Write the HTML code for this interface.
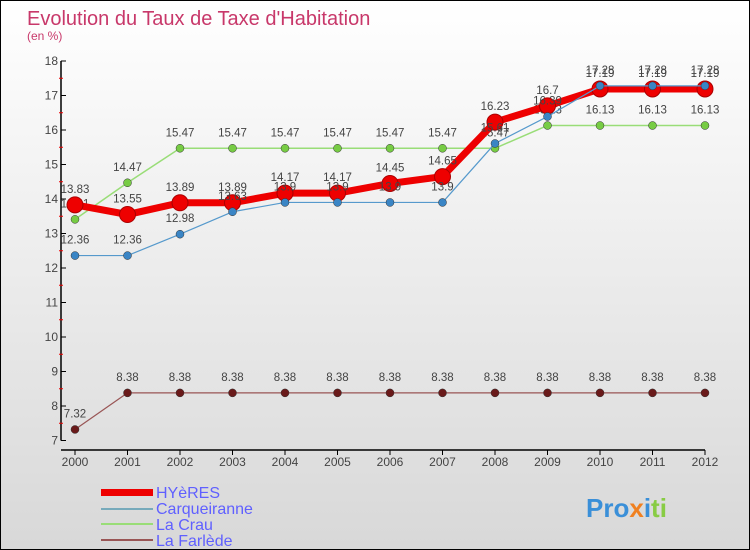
<!DOCTYPE html>
<html><head><meta charset="utf-8"><style>
body{margin:0}
#c{width:750px;height:550px;position:relative;box-sizing:border-box;border:1px solid #000;background:linear-gradient(#fff,#d8d8d8);font-family:"Liberation Sans",sans-serif}
</style></head><body>
<div id="c">
<svg id="s" width="748" height="548" style="position:absolute;left:0;top:0" font-family="Liberation Sans, sans-serif">
<text x="26" y="24" font-size="20" fill="#c8386a">Evolution du Taux de Taxe d'Habitation</text>
<text x="26" y="39" font-size="12" fill="#c8386a">(en %)</text>
<g id="g"></g>
<text x="330" y="20" font-size="1" fill="none"> </text>
<g>
<rect x="100" y="488" width="52" height="7" fill="#e00"/>
<text x="155" y="497" font-size="16" fill="#6060ff">HYèRES</text>
<rect x="100" y="507" width="52" height="2" fill="#7ab"/>
<text x="155" y="513" font-size="16" fill="#6060ff">Carqueiranne</text>
<rect x="100" y="522" width="52" height="2" fill="#9d7"/>
<text x="155" y="529" font-size="16" fill="#6060ff">La Crau</text>
<rect x="100" y="538" width="52" height="2" fill="#955"/>
<text x="155" y="545" font-size="16" fill="#6060ff">La Farlède</text>
</g>
<text x="585" y="516" font-size="26" font-weight="bold"><tspan fill="#3a8fd8">Pro</tspan><tspan fill="#f08020">x</tspan><tspan fill="#3a8fd8">i</tspan><tspan fill="#8c4">ti</tspan></text>
</svg>
</div>
<script>
const years=[2000,2001,2002,2003,2004,2005,2006,2007,2008,2009,2010,2011,2012];
const hyeres=[13.83,13.55,13.89,13.89,14.17,14.17,14.45,14.65,16.23,16.7,17.19,17.19,17.19];
const carqueiranne=[12.36,12.36,12.98,13.63,13.9,13.9,13.9,13.9,15.61,16.39,17.28,17.28,17.28];
const laCrau=[13.41,14.47,15.47,15.47,15.47,15.47,15.47,15.47,15.47,16.13,16.13,16.13,16.13];
const laFarlede=[7.32,8.38,8.38,8.38,8.38,8.38,8.38,8.38,8.38,8.38,8.38,8.38,8.38];
const yTicks=[7,8,9,10,11,12,13,14,15,16,17,18];
const NS="http://www.w3.org/2000/svg";
const g=document.getElementById('g');
const X=i=>74+i*52.5;
const Y=v=>60+(18-v)*34.5;
function mk(t,a,p){const e=document.createElementNS(NS,t);for(const k in a)e.setAttribute(k,a[k]);(p||g).appendChild(e);return e;}
let ax=mk('line',{x1:60,y1:60,x2:60,y2:Y(7),stroke:'#000','stroke-width':1.5});


let xa=mk('line',{x1:60,y1:449,x2:X(12),y2:449,stroke:'#000','stroke-width':1.5});


yTicks.forEach(v=>{
 mk('line',{x1:60,x2:65,y1:Y(v),y2:Y(v),stroke:'#000'});
 if(v<18)mk('line',{x1:58,x2:62,y1:Y(v+0.5),y2:Y(v+0.5),stroke:'#e00'});
 const t=mk('text',{x:57,y:Y(v)+4,'font-size':12,fill:'#444','text-anchor':'end'});t.textContent=v;
 
 
});
years.forEach((y,i)=>{
 mk('line',{x1:X(i),x2:X(i),y1:449,y2:454,stroke:'#000'});
 const t=mk('text',{x:X(i),y:465,'font-size':12,fill:'#444','text-anchor':'middle'});t.textContent=y;
 
 
});
function series(d,name,col,w,r,mcol,lw){
 const s=mk('g',{});
 
 
 mk('polyline',{points:d.map((v,i)=>X(i)+','+Y(v)).join(' '),fill:'none',stroke:col,'stroke-width':w,'stroke-linejoin':'round'},s);
 d.forEach((v,i)=>{
  const c=mk('circle',{cx:X(i),cy:Y(v),r:r,fill:mcol,stroke:lw?'#a00':'#333','stroke-width':lw?1:0.5},s);
  
  
  const t=mk('text',{x:X(i),y:Y(v)-12,'font-size':11.5,fill:'#444','text-anchor':'middle'},s);t.textContent=v;
 });
}
series(laFarlede,'la-farlede','#955',1.2,4,'#6a1a1a');
series(laCrau,'la-crau','#9d7',1.5,4,'#7c4');
series(hyeres,'hyeres','#e00',7,8,'#e00',1);
series(carqueiranne,'carqueiranne','#59c',1.2,4,'#3a85c5');
</script>
</body></html>
